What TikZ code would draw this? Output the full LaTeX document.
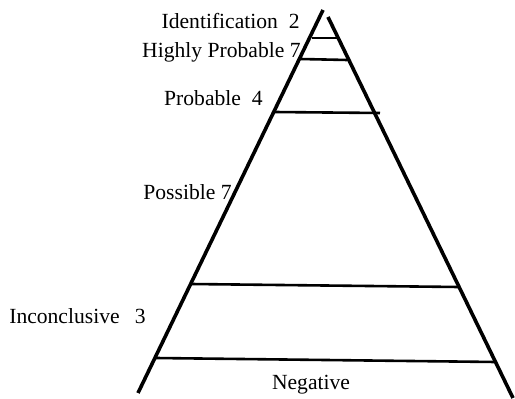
\documentclass[tikz,border=0pt]{standalone}
\usepackage{fontspec}
\setmainfont{Liberation Serif}
\usetikzlibrary{positioning}

\begin{document}
\begin{tikzpicture}[x=0.5pt, y=-0.5pt, every node/.style={font=\fontsize{10.8}{12}\selectfont, inner sep=0pt},
      side/.style={line width=1.8pt},
      tier/.style={line width=1.3pt},
      lbl/.style={anchor=base east}]
  \useasboundingbox (0,0) rectangle (515,399);
  % sides of the triangle
  \coordinate (ltop) at (323,10);
  \coordinate (lbot) at (138,393);
  \coordinate (rtop) at (328,17);
  \coordinate (rbot) at (513,398);
  \draw[side] (ltop) -- (lbot);
  \draw[side] (rtop) -- (rbot);
  % tier lines
  \coordinate (ta) at (312,38);  \coordinate (tb) at (340,38);
  \coordinate (tc) at (300,59);  \coordinate (td) at (347,60);
  \coordinate (te) at (273,112); \coordinate (tf) at (380,113);
  \coordinate (tg) at (190,284); \coordinate (th) at (458,287);
  \coordinate (ti) at (155,358); \coordinate (tj) at (495,362);
  \draw[tier] (ta) -- (tb);
  \draw[tier] (tc) -- (td);
  \draw[tier] (te) -- (tf);
  \draw[tier] (tg) -- (th);
  \draw[tier] (ti) -- (tj);
  % labels
  \node[lbl] (ident) at (300,29) {Identification\ \ 2};
  \node[lbl] (hprob) at (301,58) {Highly Probable 7};
  \node[lbl] (prob) at (263,106) {Probable\ \ 4};
  \node[lbl] (poss) at (232,200) {Possible 7};
  \node[lbl] (incon) at (146,324) {Inconclusive\hspace{0.7em}3};
  \node[anchor=base] (neg) at (311,390) {Negative};
\end{tikzpicture}
\end{document}
